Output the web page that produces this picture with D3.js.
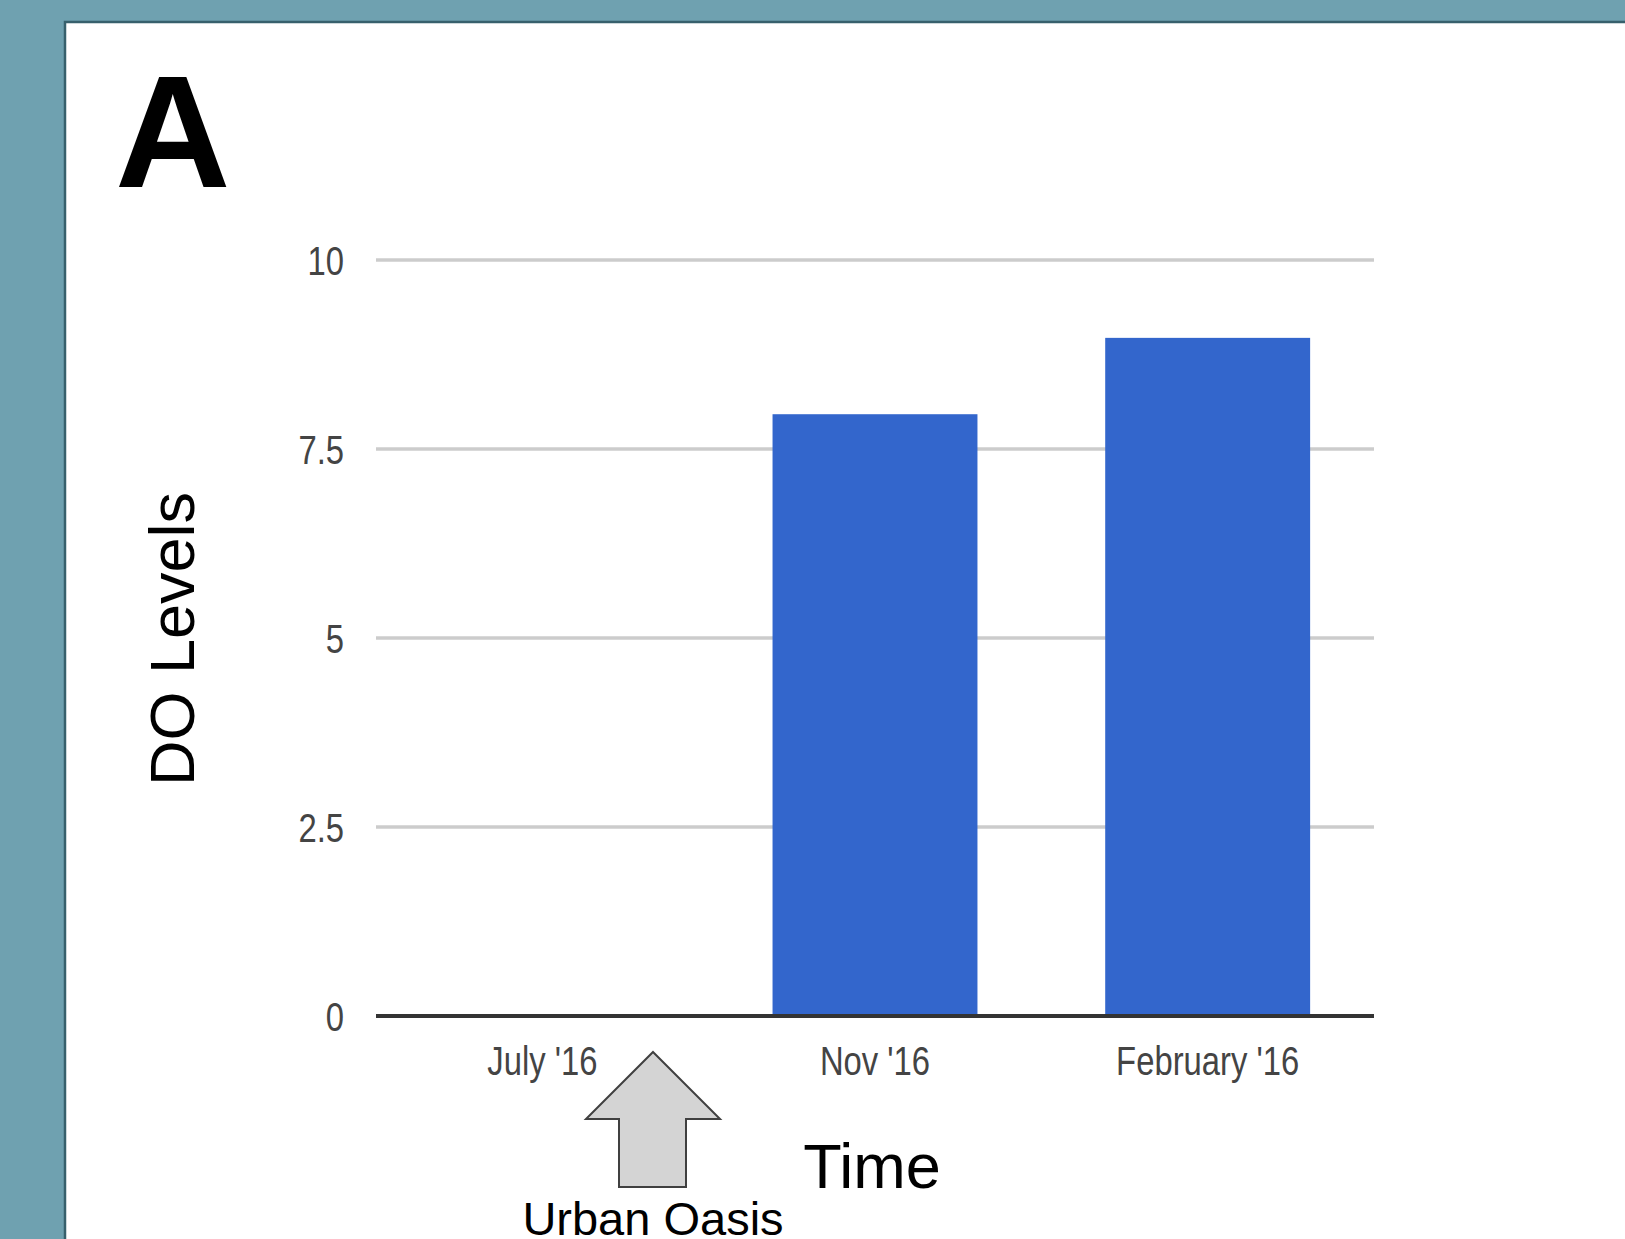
<!DOCTYPE html>
<html>
<head>
<meta charset="utf-8">
<script src="https://cdn.jsdelivr.net/npm/d3@7"></script>
<style>
    html, body { margin: 0; padding: 0; background: #6fa1b0; }
    svg { display: block; }
</style>
</head>
<body>
<div id="chart"></div>
<script>
const months = ["July '16", "Nov '16", "February '16"];
const doLevels = [null, 7.96, 8.97]; // no reading for July
const yTicks = [0, 2.5, 5, 7.5, 10];
const yTickLabels = ['0', '2.5', '5', '7.5', '10'];

const width = 1625;
const height = 1239;

const svg = d3.select('#chart').append('svg')
    .attr('width', width)
    .attr('height', height);

// white panel on the teal slide background
svg.append('rect')
    .attr('x', 65)
    .attr('y', 22)
    .attr('width', width)
    .attr('height', height)
    .attr('fill', '#ffffff')
    .attr('stroke', '#37606c')
    .attr('stroke-width', 2.5);

svg.append('text')
    .attr('x', 115)
    .attr('y', 187)
    .attr('font-family', 'Liberation Sans, Arial, sans-serif')
    .attr('font-weight', 'bold')
    .attr('font-size', 160)
    .attr('fill', '#000')
    .text('A');

const x = d3.scaleBand()
    .domain(months)
    .range([376, 1374])
    .paddingInner(0.384)
    .paddingOuter(0.192);

const y = d3.scaleLinear()
    .domain([0, 10])
    .range([1016, 260]);

// gridlines
svg.append('g')
    .selectAll('line')
    .data(yTicks.filter(d => d !== 0))
    .enter().append('line')
    .attr('x1', 376)
    .attr('x2', 1374)
    .attr('y1', d => y(d))
    .attr('y2', d => y(d))
    .attr('stroke', '#cccccc')
    .attr('stroke-width', 3.5);

// bars
svg.append('g')
    .selectAll('rect')
    .data(months.map((m, i) => ({ month: m, value: doLevels[i] })).filter(d => d.value != null))
    .enter().append('rect')
    .attr('x', d => x(d.month))
    .attr('y', d => y(d.value))
    .attr('width', x.bandwidth())
    .attr('height', d => y(0) - y(d.value))
    .attr('fill', '#3366cc');

// baseline
svg.append('line')
    .attr('x1', 376)
    .attr('x2', 1374)
    .attr('y1', y(0))
    .attr('y2', y(0))
    .attr('stroke', '#333333')
    .attr('stroke-width', 4);

// y axis labels
const yAxis = svg.append('g')
    .attr('transform', 'translate(344,0)')
    .call(d3.axisLeft(y)
        .tickValues(yTicks)
        .tickFormat((d, i) => yTickLabels[i])
        .tickSize(0)
        .tickPadding(0));
yAxis.select('.domain').remove();
yAxis.selectAll('text')
    .attr('font-family', 'Liberation Sans, Arial, sans-serif')
    .attr('font-size', 41)
    .attr('fill', '#444444')
    .attr('dy', '0.36em');

// x axis labels
const xAxis = svg.append('g')
    .attr('transform', 'translate(0,' + y(0) + ')')
    .call(d3.axisBottom(x).tickSize(0).tickPadding(0));
xAxis.select('.domain').remove();
xAxis.selectAll('text')
    .attr('font-family', 'Liberation Sans, Arial, sans-serif')
    .attr('font-size', 41)
    .attr('fill', '#444444')
    .attr('dy', null)
    .attr('y', 59);

// narrow the chart labels like the original's condensed face
svg.selectAll('.tick text').each(function() {
    const w = this.getComputedTextLength();
    d3.select(this)
        .attr('textLength', w * 0.8)
        .attr('lengthAdjust', 'spacingAndGlyphs');
});

// axis titles
svg.append('text')
    .attr('transform', 'translate(194,639) rotate(-90)')
    .attr('text-anchor', 'middle')
    .attr('font-family', 'Liberation Sans, Arial, sans-serif')
    .attr('font-size', 63)
    .attr('fill', '#000')
    .text('DO Levels');

svg.append('text')
    .attr('x', 872)
    .attr('y', 1188)
    .attr('text-anchor', 'middle')
    .attr('font-family', 'Liberation Sans, Arial, sans-serif')
    .attr('font-size', 63)
    .attr('fill', '#000')
    .text('Time');

// Urban Oasis arrow
const arrowPts = [
    [653, 1052], [720, 1119], [686, 1119], [686, 1187],
    [619, 1187], [619, 1119], [586, 1119]
];
svg.append('path')
    .attr('d', d3.line()(arrowPts) + 'Z')
    .attr('fill', '#d4d4d4')
    .attr('stroke', '#404040')
    .attr('stroke-width', 2);

svg.append('text')
    .attr('x', 653)
    .attr('y', 1235)
    .attr('text-anchor', 'middle')
    .attr('font-family', 'Liberation Sans, Arial, sans-serif')
    .attr('font-size', 47)
    .attr('fill', '#000')
    .text('Urban Oasis');
</script>
</body>
</html>
